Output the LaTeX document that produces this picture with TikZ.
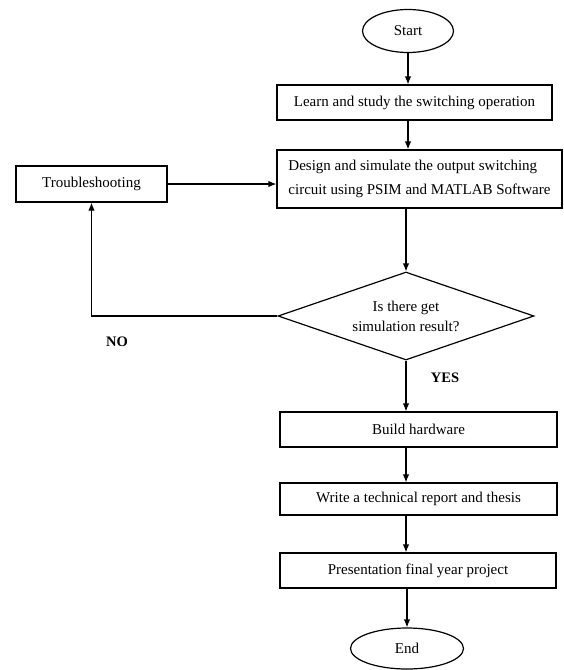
\documentclass[tikz,border=0pt]{standalone}
\usepackage{fontspec}
\setmainfont{Liberation Serif}
\usetikzlibrary{shapes.geometric,arrows.meta}
\begin{document}
\begin{tikzpicture}[x=1pt,y=-1pt,
  every node/.style={inner sep=0pt, font=\fontsize{15}{18}\selectfont},
  box/.style={draw, rectangle, line width=1.2pt},
  oval/.style={draw, ellipse, line width=1.2pt},
  decbox/.style={draw, diamond, aspect=2.9, line width=1.2pt, align=center,
    font=\fontsize{15}{20}\selectfont},
  lab/.style={font=\bfseries\fontsize{14.5}{17}\selectfont},
  arr/.style={-{Latex[length=8pt,width=6.5pt]}, line width=1.2pt}]
\useasboundingbox (0,0) rectangle (563,670);
\fill[white] (0,0) rectangle (563,670);

\node[oval, minimum width=91pt, minimum height=43pt] (start) at (408,31) {Start};
\node[box, minimum width=275pt, minimum height=35pt] (learn) at (414.5,102.5)
  {Learn and study the switching operation};
\node[box, minimum width=285pt, minimum height=58pt, align=left,
  font=\fontsize{15}{24}\selectfont] (design) at (419.5,179)
  {Design and simulate the output switching\\circuit using PSIM and MATLAB Software};
\node[box, minimum width=151pt, minimum height=36pt] (trouble) at (91.5,184) {Troubleshooting};
\node[decbox, minimum width=256pt, minimum height=88pt] (decide) at (406,316)
  {Is there get\\simulation result?};
\node[box, minimum width=277pt, minimum height=35pt] (build) at (418.5,429.5) {Build hardware};
\node[box, minimum width=277pt, minimum height=32pt] (write) at (418.5,499)
  {Write a technical report and thesis};
\node[box, minimum width=276pt, minimum height=35pt] (present) at (418,570.5)
  {Presentation final year project};
\node[oval, minimum width=113pt, minimum height=41pt] (stop) at (407,648.5) {End};

\node[lab] (no) at (117,342) {NO};
\node[lab] (yes) at (445,378) {YES};

\draw[arr] (start) -- (start |- learn.north);
\draw[arr] (learn.south -| start) -- (design.north -| start);
\draw[arr] (design.south -| decide) -- (decide.north);
\draw[arr] (decide) -- (decide |- build.north);
\draw[arr] (build.south -| decide) -- (write.north -| decide);
\draw[arr] (write.south -| decide) -- (present.north -| decide);
\draw[arr] (present.south -| stop) -- (stop.north);
\draw[arr] (decide.west) -| (trouble.south);
\draw[arr] (trouble.east) -- (design.west |- trouble.east);
\end{tikzpicture}
\end{document}
